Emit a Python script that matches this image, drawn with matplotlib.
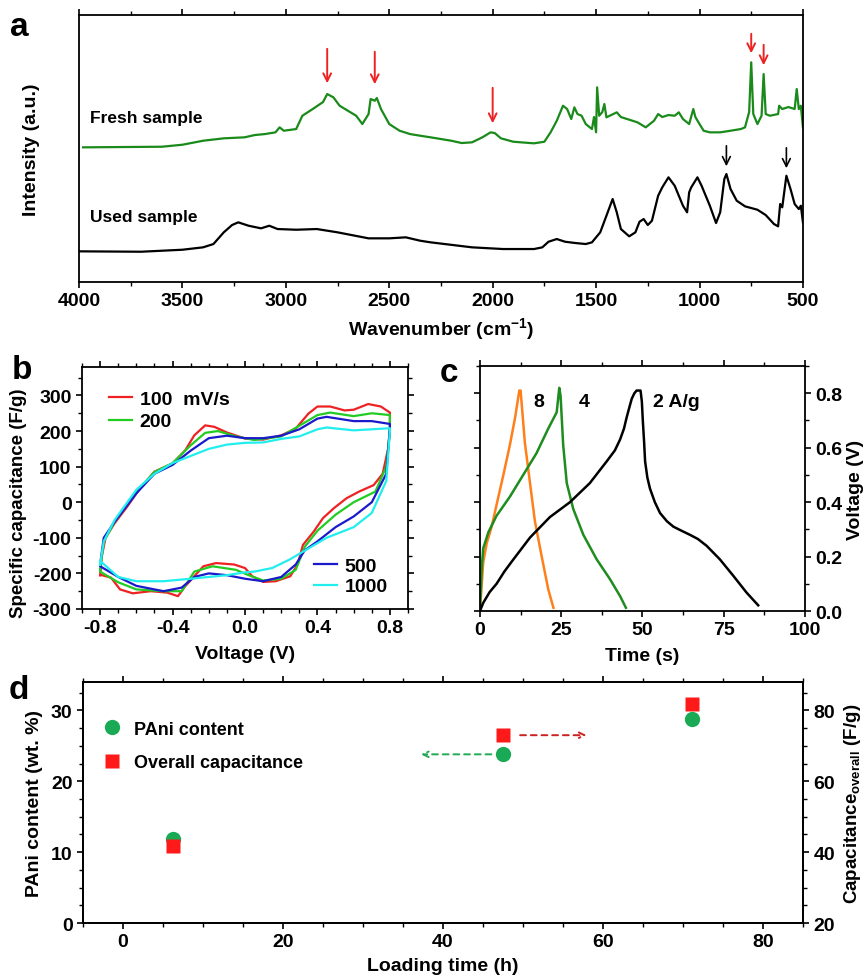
import numpy as np
import matplotlib
matplotlib.use("Agg")
import matplotlib.pyplot as plt
from matplotlib.ticker import MultipleLocator

plt.rcParams['font.family'] = ['Liberation Sans', 'DejaVu Sans']
plt.rcParams['font.weight'] = 'bold'
plt.rcParams['axes.labelweight'] = 'bold'
plt.rcParams['mathtext.default'] = 'regular'
plt.rcParams['axes.linewidth'] = 1.3
plt.rcParams['axes.unicode_minus'] = False

# ---------------- Panel a: spectra ----------------
fresh_wn = [3980, 3600, 3500, 3400, 3300, 3200, 3150, 3100, 3050, 3030, 3010, 2950, 2920, 2870,
            2820, 2800, 2770, 2740, 2700, 2660, 2630, 2600, 2590, 2570, 2560, 2540, 2500, 2450,
            2400, 2350, 2300, 2200, 2150, 2100, 2050, 2010, 1990, 1960, 1900, 1800, 1750, 1720,
            1690, 1660, 1640, 1620, 1605, 1590, 1570, 1550, 1520, 1510, 1500, 1495, 1485, 1470,
            1460, 1450, 1400, 1380, 1350, 1300, 1260, 1220, 1200, 1180, 1150, 1120, 1100, 1080,
            1050, 1030, 1020, 1000, 980, 950, 900, 850, 800, 780, 760, 750, 740, 720, 700, 690,
            680, 660, 620, 615, 600, 570, 540, 530, 520, 510, 500]
fresh_int = [134.7, 135.3, 137.3, 141.3, 143.7, 144.7, 147, 148, 149.7, 154.7, 151.3, 153, 166.3, 173,
             180, 188, 184.7, 176.3, 171.3, 166.3, 158, 168, 183, 181.3, 184, 173, 158, 151.3,
             148, 146.3, 144.7, 141.3, 139, 139.7, 144.7, 149.7, 149, 143.7, 140.3, 138.7, 140.3, 149.7,
             161.3, 176.3, 173, 163, 174.7, 168, 166.3, 158, 153, 165, 149.7, 194.7, 166.3, 170,
             178, 164.7, 169.7, 165, 163, 159.7, 154.7, 161.3, 168, 165, 167, 166.3, 169.7, 163,
             158, 173, 165, 158, 151.3, 149.7, 149.7, 151.3, 153, 154.7, 170, 219.7, 168, 158, 166.3, 208,
             168, 166.3, 168, 176.3, 173, 175, 173, 193, 173, 176.3, 154.7]
used_wn = [4000, 3700, 3500, 3400, 3350, 3300, 3260, 3230, 3180, 3120, 3080, 3040, 2950, 2850,
           2750, 2600, 2500, 2420, 2350, 2300, 2100, 1950, 1800, 1760, 1730, 1690, 1650, 1600,
           1550, 1520, 1480, 1450, 1420, 1400, 1380, 1340, 1310, 1290, 1270, 1250, 1230, 1200,
           1180, 1150, 1120, 1080, 1060, 1050, 1040, 1010, 990, 950, 920, 900, 880, 870, 850,
           820, 780, 720, 680, 640, 620, 610, 600, 580, 560, 540, 520, 510, 500]
used_int = [30.7, 30.3, 32.3, 34.7, 38, 49.7, 57, 59.7, 56.3, 53.7, 56.3, 53, 52.3, 53,
            49.7, 43.7, 43.7, 44.7, 41.3, 39.7, 34.7, 33, 33, 34.7, 40.3, 43, 40.3, 39,
            38, 39.7, 49.7, 66.3, 83, 69.7, 53, 45.7, 49.7, 60.3, 63, 57, 61.3, 86.3,
            94.7, 104.7, 96.3, 76.3, 69.7, 89.7, 94.7, 104.7, 96.3, 76.3, 59, 69.7, 103, 108, 93,
            81.3, 75.7, 72.3, 67, 58, 55.7, 78, 74.7, 106.3, 93, 78, 73, 76.3, 59.7]
red_arrow_wn = [2800, 2570, 2000, 750, 690]
red_arrow_top = [236, 233, 197, 251, 240]
red_arrow_tip = [196, 195, 156, 226, 214]
black_arrow_wn = [870, 580]
black_arrow_top = [139, 137]
black_arrow_tip = [113, 111]

# ---------------- Panel b: CV ----------------
cv_rates = ['100', '200', '500', '1000']
cv_colors = ['#ee2222', '#22cc22', '#1a1acc', '#22eeee']
cv_red_x = [-0.8, -0.79, -0.77, -0.72, -0.65, -0.58, -0.5, -0.4, -0.33, -0.28, -0.22, -0.17, -0.1, 0, 0.1,
            0.2, 0.28, 0.35, 0.4, 0.47, 0.55, 0.6, 0.68, 0.75, 0.8,
            0.8, 0.79, 0.76, 0.71, 0.63, 0.56, 0.49, 0.43, 0.38, 0.32, 0.29, 0.25, 0.17, 0.1, 0.04, 0.0,
            -0.06, -0.16, -0.23, -0.28, -0.33, -0.37, -0.43, -0.52, -0.62, -0.69, -0.74, -0.79, -0.8]
cv_red_y = [-205, -150, -100, -59, -12, 39, 86, 109, 146, 188, 216, 212, 196, 179, 176,
            188, 207, 249, 269, 269, 258, 260, 276, 269, 252,
            200, 150, 80, 48, 30, 11, -17, -45, -82, -120, -175, -208, -222, -224, -208, -185,
            -175, -171, -180, -208, -236, -264, -254, -250, -256, -245, -212, -205, -205]
cv_green_x = [-0.8, -0.78, -0.72, -0.6, -0.5, -0.4, -0.3, -0.22, -0.15, -0.05, 0.05, 0.2, 0.3, 0.4,
              0.47, 0.6, 0.7, 0.8,
              0.8, 0.78, 0.72, 0.6, 0.5, 0.4, 0.33, 0.28, 0.2, 0.1, 0.02, -0.05, -0.18, -0.28,
              -0.35, -0.45, -0.6, -0.7, -0.8, -0.8]
cv_green_y = [-190, -110, -55, 30, 85, 110, 160, 195, 200, 185, 175, 185, 215, 245,
              252, 242, 250, 245,
              200, 100, 30, 0, -35, -80, -125, -190, -215, -220, -205, -190, -180, -195,
              -250, -250, -245, -225, -195, -190]
cv_blue_x = [-0.8, -0.78, -0.72, -0.6, -0.5, -0.4, -0.3, -0.2, -0.1, 0, 0.1, 0.2, 0.3, 0.4, 0.45,
             0.6, 0.7, 0.8,
             0.8, 0.78, 0.7, 0.6, 0.5, 0.4, 0.33, 0.28, 0.2, 0.1, 0.0, -0.1, -0.2, -0.28, -0.35,
             -0.45, -0.6, -0.7, -0.8, -0.8]
cv_blue_y = [-175, -100, -55, 25, 80, 105, 145, 180, 187, 180, 180, 187, 205, 235, 240,
             228, 228, 220,
             210, 80, 0, -40, -70, -110, -135, -175, -210, -222, -215, -205, -200, -210, -240,
             -250, -235, -210, -180, -175]
cv_cyan_x = [-0.8, -0.78, -0.72, -0.6, -0.5, -0.4, -0.3, -0.2, -0.1, 0, 0.1, 0.2, 0.3, 0.4, 0.45,
             0.6, 0.7, 0.8,
             0.8, 0.78, 0.7, 0.6, 0.45, 0.35, 0.25, 0.15, 0.05, 0.0, -0.1, -0.2, -0.3, -0.45,
             -0.6, -0.7, -0.8, -0.8]
cv_cyan_y = [-175, -110, -50, 35, 80, 110, 130, 150, 162, 167, 168, 178, 185, 205, 210,
             202, 205, 208,
             200, 60, -30, -70, -100, -130, -160, -185, -195, -197, -205, -210, -215, -222,
             -222, -210, -165, -175]

# ---------------- Panel c: GCD ----------------
gcd_labels = ['8', '4', '2 A/g']
gcd_colors = ['#ff7f1a', '#1e8c1e', '#000000']
gcd8_t = [0, 1.0, 2.1, 3.6, 5.1, 7.2, 9.2, 10.8, 12.1, 12.5, 13.8, 15.4, 16.9, 19.0, 21.0, 22.6]
gcd8_v = [0, 0.18, 0.25, 0.31, 0.39, 0.50, 0.61, 0.71, 0.81, 0.81, 0.62, 0.47, 0.33, 0.20, 0.08, 0.012]
gcd4_t = [0, 0.5, 1.0, 2.6, 5.1, 9.2, 13.3, 17.4, 21.0, 23.6, 24.4, 24.8, 25.6, 26.7, 28.7, 31.8, 35.9,
          40.0, 43.1, 44.9]
gcd4_v = [0, 0.15, 0.23, 0.29, 0.35, 0.42, 0.50, 0.58, 0.67, 0.73, 0.82, 0.79, 0.61, 0.47, 0.375, 0.28,
          0.19, 0.117, 0.055, 0.012]
gcd2_t = [0, 1.0, 3.0, 5.1, 7.5, 10.3, 15.4, 21.5, 27.7, 33.8, 39.0, 41.5, 43.1, 44.3, 45.1, 46.0, 46.7,
          47.5, 48.2, 49.4, 49.8, 50.1, 50.5, 50.8, 51.5, 52.3, 53.8, 55.4, 57.5, 59.5, 62.0, 64.6,
          67.0, 69.7, 73.8, 77.9, 82.0, 85.6]
gcd2_v = [0, 0.03, 0.07, 0.10, 0.145, 0.19, 0.27, 0.345, 0.40, 0.47, 0.55, 0.59, 0.63, 0.67, 0.71, 0.75,
          0.78, 0.80, 0.81, 0.81, 0.77, 0.70, 0.62, 0.55, 0.49, 0.45, 0.40, 0.36, 0.33, 0.31, 0.295, 0.28,
          0.265, 0.24, 0.19, 0.13, 0.068, 0.021]
gcd_label_t = [16.4, 30.3, 53.3]

# ---------------- Panel d ----------------
load_time = [6.25, 47.5, 71.1]
pani_content = [11.8, 23.8, 28.75]
overall_cap = [41.7, 73.0, 81.9]

fig = plt.figure(figsize=(8.67, 9.78), dpi=100)
FS = 14

def style(ax):
    ax.tick_params(labelsize=FS, width=1.2, length=4, which='major')
    ax.tick_params(width=1.0, length=3, which='minor')
    for lab in ax.get_xticklabels() + ax.get_yticklabels():
        lab.set_fontweight('bold')

# Panel a
axa = fig.add_axes([0.0911, 0.7106, 0.835, 0.273])
axa.plot(fresh_wn, fresh_int, color='#1a8a1a', lw=1.6)
axa.plot(used_wn, used_int, color='black', lw=1.6)
axa.set_xlim(4000, 500)
axa.set_ylim(0, 267)
axa.set_yticks([])
axa.xaxis.set_major_locator(MultipleLocator(500))
axa.xaxis.set_minor_locator(MultipleLocator(250))
axa.tick_params(axis='x', which='both', top=True, direction='out')
style(axa)
for w, t0, t1 in zip(red_arrow_wn, red_arrow_top, red_arrow_tip):
    axa.annotate('', xy=(w, t1), xytext=(w, t0),
                 arrowprops=dict(arrowstyle='->', color='#ee2222', lw=1.4, mutation_scale=14))
for w, t0, t1 in zip(black_arrow_wn, black_arrow_top, black_arrow_tip):
    axa.annotate('', xy=(w, t1), xytext=(w, t0),
                 arrowprops=dict(arrowstyle='->', color='black', lw=1.2, mutation_scale=14))
axa.text(3947, 165, 'Fresh sample', fontsize=12.5, fontweight='bold', va='center', ha='left')
axa.text(3947, 66, 'Used sample', fontsize=12.5, fontweight='bold', va='center', ha='left')
axa.set_ylabel('Intensity (a.u.)', fontsize=FS, fontweight='bold', labelpad=28)
axa.set_xlabel(r'Wavenumber (cm$^{-1}$)', fontsize=FS, fontweight='bold', labelpad=4)
fig.text(0.012, 0.972, 'a', fontsize=24, fontweight='bold', va='center')

# Panel b
axb = fig.add_axes([0.0946, 0.3763, 0.376, 0.2474])
cvx = [cv_red_x, cv_green_x, cv_blue_x, cv_cyan_x]
cvy = [cv_red_y, cv_green_y, cv_blue_y, cv_cyan_y]
handles = []
for xs, ys, c, r in zip(cvx, cvy, cv_colors, cv_rates):
    h, = axb.plot(xs, ys, color=c, lw=1.6)
    handles.append(h)
axb.set_xlim(-0.9, 0.9)
axb.set_ylim(-300, 380)
axb.xaxis.set_major_locator(MultipleLocator(0.4))
axb.xaxis.set_minor_locator(MultipleLocator(0.1))
axb.yaxis.set_major_locator(MultipleLocator(100))
axb.yaxis.set_minor_locator(MultipleLocator(50))
axb.tick_params(which='both', top=True, right=True, direction='out')
axb.set_xticks([-0.8, -0.4, 0.0, 0.4, 0.8])
axb.set_xticklabels(['-0.8', '-0.4', '0.0', '0.4', '0.8'])
style(axb)
leg1 = axb.legend(handles[:2], ['100  mV/s', '200'], loc='upper left', frameon=False,
                  prop={'size': FS, 'weight': 'bold'}, handlelength=1.2, handletextpad=0.4,
                  borderaxespad=0.3, labelspacing=0.25, bbox_to_anchor=(0.04, 0.96))
axb.add_artist(leg1)
axb.legend(handles[2:], ['500', '1000'], loc='lower right', frameon=False,
           prop={'size': FS, 'weight': 'bold'}, handlelength=1.2, handletextpad=0.4,
           borderaxespad=0.3, labelspacing=0.15, bbox_to_anchor=(0.98, 0.0))
axb.set_ylabel('Specific capacitance (F/g)', fontsize=13.5, fontweight='bold', labelpad=2)
axb.yaxis.set_label_coords(-0.168, 0.44)
axb.set_xlabel('Voltage (V)', fontsize=FS, fontweight='bold', labelpad=6)
fig.text(0.014, 0.621, 'b', fontsize=24, fontweight='bold', va='center')

# Panel c
axc = fig.add_axes([0.5536, 0.3742, 0.3749, 0.2505])
for ts, vs, c in zip([gcd8_t, gcd4_t, gcd2_t], [gcd8_v, gcd4_v, gcd2_v], gcd_colors):
    axc.plot(ts, vs, color=c, lw=1.8)
for t, lab in zip(gcd_label_t, gcd_labels):
    axc.text(t, 0.77, lab, fontsize=FS, fontweight='bold', va='center', ha='left')
axc.set_xlim(0, 100)
axc.set_ylim(0, 0.9)
axc.xaxis.set_major_locator(MultipleLocator(25))
axc.xaxis.set_minor_locator(MultipleLocator(12.5))
axc.yaxis.set_major_locator(MultipleLocator(0.2))
axc.yaxis.set_minor_locator(MultipleLocator(0.1))
axc.yaxis.tick_right()
axc.yaxis.set_label_position('right')
axc.tick_params(which='both', top=True, left=True, right=True, direction='out')
axc.set_yticks([0, 0.2, 0.4, 0.6, 0.8])
axc.set_yticklabels(['0.0', '0.2', '0.4', '0.6', '0.8'])
style(axc)
axc.set_ylabel('Voltage (V)', fontsize=FS, fontweight='bold', labelpad=3)
axc.set_xlabel('Time (s)', fontsize=FS, fontweight='bold', labelpad=6)
fig.text(0.507, 0.618, 'c', fontsize=24, fontweight='bold', va='center')

# Panel d
axd = fig.add_axes([0.0957, 0.0552, 0.8304, 0.2464])
axd2 = axd.twinx()
axd.set_xlim(-5, 85)
axd.set_ylim(0, 34)
axd2.set_ylim(20, 88)
axd.plot(load_time, pani_content, 'o', color='#1aaa55', ms=11, mec='none', zorder=3)
axd2.plot(load_time, overall_cap, 's', color='#ff1a1a', ms=10, mec='none', zorder=3)
axd.xaxis.set_major_locator(MultipleLocator(20))
axd.xaxis.set_minor_locator(MultipleLocator(5))
axd.yaxis.set_major_locator(MultipleLocator(10))
axd.yaxis.set_minor_locator(MultipleLocator(2.5))
axd2.yaxis.set_major_locator(MultipleLocator(20))
axd2.yaxis.set_minor_locator(MultipleLocator(5))
axd.tick_params(which='both', top=True, direction='out')
axd2.tick_params(which='both', direction='out')
style(axd)
style(axd2)
axd.annotate('', xy=(36.9, pani_content[1]), xytext=(46.4, pani_content[1]),
             arrowprops=dict(arrowstyle='->', color='#22aa55', lw=1.4, ls=(0, (3, 2.5)),
                             mutation_scale=10))
axd2.annotate('', xy=(58.3, overall_cap[1]), xytext=(49.3, overall_cap[1]),
              arrowprops=dict(arrowstyle='->', color='#cc2222', lw=1.4, ls=(0, (3, 2.5)),
                              mutation_scale=10))
hd1, = axd.plot([], [], 'o', color='#1aaa55', ms=11, mec='none')
hd2, = axd.plot([], [], 's', color='#ff1a1a', ms=10, mec='none')
axd.legend([hd1, hd2], ['PAni content', 'Overall capacitance'], loc='upper left', frameon=False,
           prop={'size': 13, 'weight': 'bold'}, handletextpad=0.2, labelspacing=0.9,
           bbox_to_anchor=(0.005, 0.87), borderaxespad=0.0)
axd.set_ylabel('PAni content (wt. %)', fontsize=FS, fontweight='bold', labelpad=6)
axd2.set_ylabel(r'Capacitance$_{overall}$ (F/g)', fontsize=13.5, fontweight='bold', labelpad=5)
axd.set_xlabel('Loading time (h)', fontsize=FS, fontweight='bold', labelpad=5)
fig.text(0.010, 0.294, 'd', fontsize=24, fontweight='bold', va='center')

fig.savefig('out.png', dpi=100)
